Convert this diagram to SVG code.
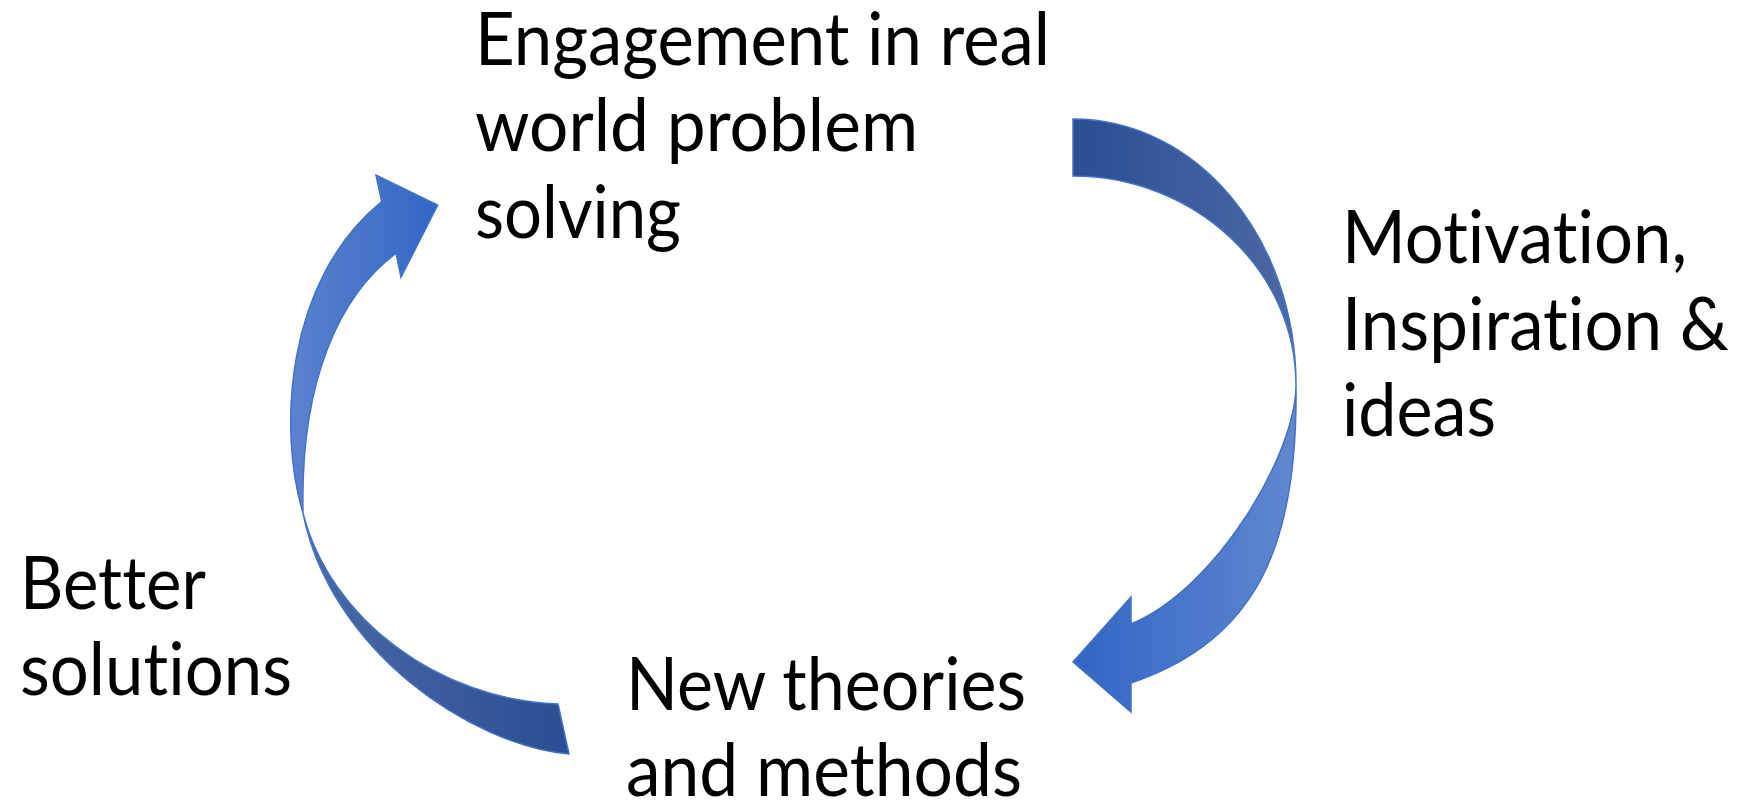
<svg xmlns="http://www.w3.org/2000/svg" width="1743" height="805" viewBox="0 0 1743 805">
<style>
.lbl{font-family:Lato,"Open Sans","Liberation Sans",sans-serif;font-size:73px;fill:#000;font-variant-ligatures:none;font-feature-settings:"liga" 0,"clig" 0}
.arr{stroke:#4472C4;stroke-width:1.5;stroke-linejoin:miter}
</style>
<defs>
<linearGradient id="gRD" gradientUnits="userSpaceOnUse" x1="1073" y1="0" x2="1297" y2="0"><stop offset="0" stop-color="#2A4E94"/><stop offset="1" stop-color="#4D69A4"/></linearGradient>
<linearGradient id="gRL" gradientUnits="userSpaceOnUse" x1="1073" y1="0" x2="1297" y2="0"><stop offset="0" stop-color="#3265C5"/><stop offset="1" stop-color="#5F88D0"/></linearGradient>
<linearGradient id="gLD" gradientUnits="userSpaceOnUse" x1="303" y1="0" x2="569" y2="0"><stop offset="0" stop-color="#4B69A5"/><stop offset="1" stop-color="#2A4E94"/></linearGradient>
<linearGradient id="gLL" gradientUnits="userSpaceOnUse" x1="287" y1="0" x2="438" y2="0"><stop offset="0" stop-color="#5B83CF"/><stop offset="1" stop-color="#3366C4"/></linearGradient>
</defs>
<rect width="1743" height="805" fill="#fff"/>
<g id="connectors">
<g id="arrow-right">
<path class="arr" fill="url(#gRD)" d="M1073,119 C1197,119 1296,238 1296,385 C1296,270 1195,176 1073,176 Z"/>
<path class="arr" fill="url(#gRL)" d="M1296,385 C1298,540 1260,640 1131,683 L1131,712 L1073,662 L1131,597 L1131,624 C1215,590 1296,455 1296,385 Z"/>
</g>
<g id="arrow-left">
<path class="arr" fill="url(#gLD)" d="M558,704 L569,754 C470,745 330,650 303,513 C330,620 440,700 558,704 Z"/>
<path class="arr" fill="url(#gLL)" d="M303,513 C278,430 285,280 381.7,201.7 L376,175 L437.7,205 L401,277.3 L396,253.3 C340,295 300,380 303,513 Z"/>
</g>
</g>
<g id="node-engagement">
<text class="lbl" x="475" y="65" textLength="575" lengthAdjust="spacingAndGlyphs">Engagement in real</text>
<text class="lbl" x="475" y="151" textLength="443" lengthAdjust="spacingAndGlyphs">world problem</text>
<text class="lbl" x="475" y="238" textLength="206" lengthAdjust="spacingAndGlyphs">solving</text>
</g>
<g id="node-motivation">
<text class="lbl" x="1342" y="263" textLength="345" lengthAdjust="spacingAndGlyphs">Motivation,</text>
<text class="lbl" x="1342" y="350" textLength="387" lengthAdjust="spacingAndGlyphs">Inspiration &amp;</text>
<text class="lbl" x="1342" y="436" textLength="154" lengthAdjust="spacingAndGlyphs">ideas</text>
</g>
<g id="node-theories">
<text class="lbl" x="626" y="710" textLength="400" lengthAdjust="spacingAndGlyphs">New theories</text>
<text class="lbl" x="626" y="796" textLength="396" lengthAdjust="spacingAndGlyphs">and methods</text>
</g>
<g id="node-solutions">
<text class="lbl" x="20" y="609" textLength="186" lengthAdjust="spacingAndGlyphs">Better</text>
<text class="lbl" x="20" y="695" textLength="272" lengthAdjust="spacingAndGlyphs">solutions</text>
</g>
</svg>
